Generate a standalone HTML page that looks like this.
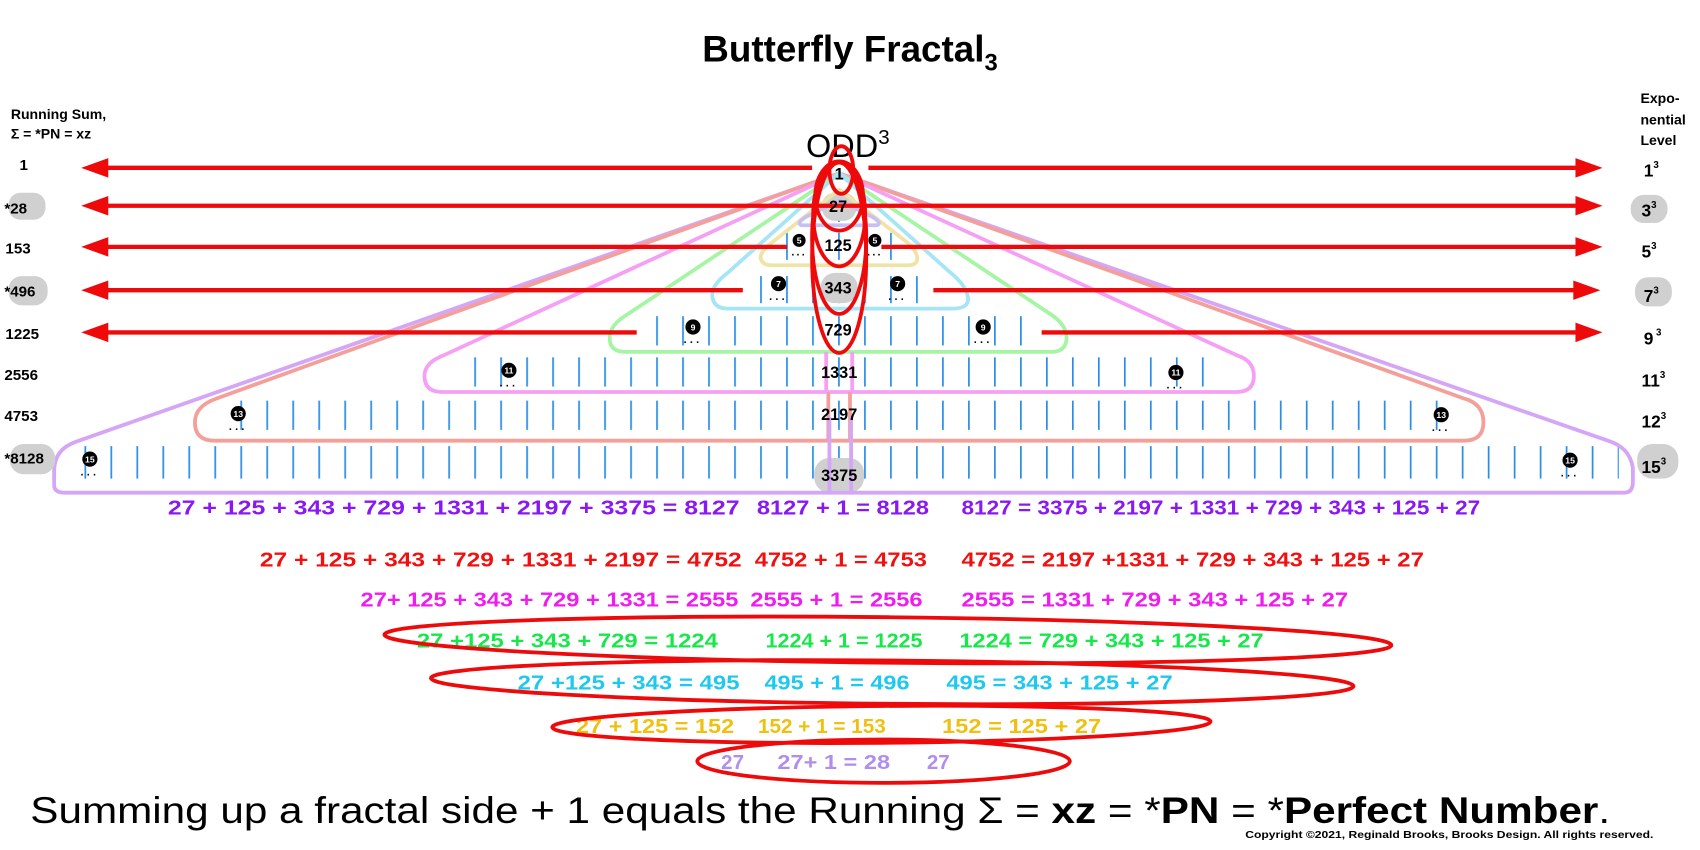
<!DOCTYPE html>
<html><head><meta charset="utf-8"><style>
html,body{margin:0;padding:0;background:#fff;width:1700px;height:850px;overflow:hidden}
svg{display:block}
text{font-family:"Liberation Sans",sans-serif}
.b{font-weight:bold}
</style></head><body>
<svg width="1700" height="850" viewBox="0 0 1570 785" xmlns="http://www.w3.org/2000/svg">
<defs>
<pattern id="tk" x="774" y="0" width="24" height="800" patternUnits="userSpaceOnUse">
<rect x="0" y="0" width="1.6" height="800" fill="#2a8ee8"/>
</pattern>
</defs>

<text x="785" y="57" text-anchor="middle" class="b" font-size="34">Butterfly Fractal<tspan font-size="22" dy="8">3</tspan></text>

<rect x="752" y="180" width="48" height="25" fill="url(#tk)"/>
<rect x="720" y="215" width="110" height="25" fill="url(#tk)"/>
<rect x="680" y="255" width="190" height="25" fill="url(#tk)"/>
<rect x="600" y="292" width="350" height="27" fill="url(#tk)"/>
<rect x="420" y="330" width="710" height="27" fill="url(#tk)"/>
<rect x="200" y="370" width="1145" height="27" fill="url(#tk)"/>
<rect x="62" y="412" width="1433" height="30" fill="url(#tk)"/>

<rect x="759" y="178" width="32" height="26" rx="12" fill="#d0d0d0"/>
<rect x="758" y="252" width="34" height="28" rx="13" fill="#d0d0d0"/>
<rect x="752" y="423" width="46" height="32" rx="14" fill="#d0d0d0"/>

<g fill="none" stroke-width="3.5" stroke-linejoin="round">
<path d="M775,160 L70,408 Q50,415 50,435 L50,448 Q50,455 60,455 L1500,455 Q1508,455 1508,445 L1508,432 Q1505,413 1485,407 Z" stroke="#d4a6f5"/>
<path d="M775,160 L200,368 Q180,375 180,390 Q180,407 198,407 L1352,407 Q1370,407 1370,390 Q1370,373 1352,368 Z" stroke="#f4a09a"/>
<path d="M775,160 L410,328 Q392,335 392,347 Q392,362 408,362 L1142,362 Q1158,362 1158,347 Q1158,333 1142,328 Z" stroke="#f5a0f5"/>
<path d="M775,160 L580,290 Q563,300 563,312 Q563,325 578,325 L970,325 Q985,325 985,312 Q985,300 970,290 Z" stroke="#a5f5a5"/>
<path d="M775,160 L672,252 Q656,264 658,275 Q660,285 672,285 L880,285 Q895,285 894,275 Q892,263 878,252 Z" stroke="#a5e5f5"/>
<path d="M775,175 L713,224 Q700,234 703,240 Q705,245 713,245 L838,245 Q846,245 847,240 Q848,233 838,224 Z" stroke="#f0e3a8"/>
<path d="M775,185 L745,200 Q735,206 740,208 L810,208 Q815,206 805,200 Z" stroke="#c8c0f0"/>
<path d="M763,325 L763,362 M787,325 L787,362" stroke="#f5a0f5"/>
<path d="M765,362 L765,407 M785,362 L785,407" stroke="#f4a09a"/>
<path d="M766,385 L766,455 M786,385 L786,455" stroke="#d4a6f5"/>
</g>

<text x="783" y="145" text-anchor="middle" font-size="30">ODD<tspan font-size="19" dy="-12">3</tspan></text>

<g stroke="#ee0a0a" stroke-width="4" fill="#ee0a0a">
<line x1="98" y1="155" x2="750" y2="155"/><line x1="802" y1="155" x2="1455" y2="155"/>
<line x1="98" y1="190" x2="1455" y2="190"/>
<line x1="98" y1="228" x2="727" y2="228"/><line x1="814" y1="228" x2="1455" y2="228"/>
<line x1="98" y1="268" x2="686" y2="268"/><line x1="862" y1="268" x2="1455" y2="268"/>
<line x1="98" y1="307" x2="588" y2="307"/><line x1="962" y1="307" x2="1455" y2="307"/>
</g>
<g fill="#ee0a0a">
<path d="M75,155 L100,146 L100,164 Z"/><path d="M1480,155 L1455,146 L1455,164 Z"/>
<path d="M75,190 L100,181 L100,199 Z"/><path d="M1480,190 L1455,181 L1455,199 Z"/>
<path d="M75,228 L100,219 L100,237 Z"/><path d="M1480,228 L1455,219 L1455,237 Z"/>
<path d="M75,268 L100,259 L100,277 Z"/><path d="M1478,268 L1453,259 L1453,277 Z"/>
<path d="M75,307 L100,298 L100,316 Z"/><path d="M1480,307 L1455,298 L1455,316 Z"/>
</g>

<g class="b" font-size="15" text-anchor="middle" fill="#000">
<text x="775" y="166">1</text>
<text x="774" y="196">27</text>
<text x="774" y="232">125</text>
<text x="774" y="271">343</text>
<text x="774" y="310">729</text>
<text x="775" y="349">1331</text>
<text x="775" y="388">2197</text>
<text x="775" y="444">3375</text>
</g>

<g font-size="8" class="b" text-anchor="middle">
<g transform="translate(738,222)"><circle r="6" fill="#000"/><text y="3" fill="#fff">5</text><text y="14" fill="#000" font-size="10" letter-spacing="2">...</text></g>
<g transform="translate(808,222)"><circle r="6" fill="#000"/><text y="3" fill="#fff">5</text><text y="14" fill="#000" font-size="10" letter-spacing="2">...</text></g>
<g transform="translate(719,262)"><circle r="7" fill="#000"/><text y="3" fill="#fff">7</text><text y="15" fill="#000" font-size="10" letter-spacing="3">...</text></g>
<g transform="translate(829,262)"><circle r="7" fill="#000"/><text y="3" fill="#fff">7</text><text y="15" fill="#000" font-size="10" letter-spacing="3">...</text></g>
<g transform="translate(640,302)"><circle r="7" fill="#000"/><text y="3" fill="#fff">9</text><text y="15" fill="#000" font-size="10" letter-spacing="3">...</text></g>
<g transform="translate(908,302)"><circle r="7" fill="#000"/><text y="3" fill="#fff">9</text><text y="15" fill="#000" font-size="10" letter-spacing="3">...</text></g>
<g transform="translate(470,342)"><circle r="7" fill="#000"/><text y="3" fill="#fff">11</text><text y="15" fill="#000" font-size="10" letter-spacing="3">...</text></g>
<g transform="translate(1086,344)"><circle r="7" fill="#000"/><text y="3" fill="#fff">11</text><text y="15" fill="#000" font-size="10" letter-spacing="3">...</text></g>
<g transform="translate(220,382)"><circle r="7" fill="#000"/><text y="3" fill="#fff">13</text><text y="15" fill="#000" font-size="10" letter-spacing="3">...</text></g>
<g transform="translate(1331,383)"><circle r="7" fill="#000"/><text y="3" fill="#fff">13</text><text y="15" fill="#000" font-size="10" letter-spacing="3">...</text></g>
<g transform="translate(83,424)"><circle r="7" fill="#000"/><text y="3" fill="#fff">15</text><text y="15" fill="#000" font-size="10" letter-spacing="3">...</text></g>
<g transform="translate(1450,425)"><circle r="7" fill="#000"/><text y="3" fill="#fff">15</text><text y="15" fill="#000" font-size="10" letter-spacing="3">...</text></g>
</g>

<g fill="none" stroke="#ee0a0a" stroke-width="3.5">
<ellipse cx="777" cy="157" rx="11" ry="22"/>
<ellipse cx="775" cy="181" rx="22" ry="32"/>
<ellipse cx="775" cy="198" rx="24" ry="48"/>
<ellipse cx="775" cy="220" rx="25" ry="70"/>
<ellipse cx="775" cy="238" rx="25" ry="88"/>
</g>

<g class="b" font-size="13" fill="#000">
<text x="10" y="110">Running Sum,</text>
<text x="10" y="128">Σ = *PN = xz</text>
</g>
<rect x="8" y="178" width="34" height="25" rx="11" fill="#d0d0d0"/>
<rect x="8" y="255" width="36" height="27" rx="12" fill="#d0d0d0"/>
<rect x="9" y="410" width="42" height="28" rx="13" fill="#d0d0d0"/>
<g class="b" font-size="14" fill="#000">
<text x="18" y="157">1</text>
<text x="4" y="197">*28</text>
<text x="5" y="234">153</text>
<text x="4" y="274">*496</text>
<text x="5" y="313">1225</text>
<text x="4" y="351">2556</text>
<text x="4" y="389">4753</text>
<text x="4" y="428">*8128</text>
</g>

<g class="b" font-size="13" fill="#000">
<text x="1515" y="95">Expo-</text>
<text x="1515" y="115">nential</text>
<text x="1515" y="134">Level</text>
</g>
<rect x="1506" y="180" width="34" height="26" rx="12" fill="#d0d0d0"/>
<rect x="1510" y="256" width="34" height="27" rx="12" fill="#d0d0d0"/>
<rect x="1512" y="410" width="38" height="32" rx="14" fill="#d0d0d0"/>
<g class="b" font-size="16" fill="#000">
<text x="1518" y="163">1<tspan font-size="9" dy="-8">3</tspan></text>
<text x="1516" y="200">3<tspan font-size="9" dy="-8">3</tspan></text>
<text x="1516" y="238">5<tspan font-size="9" dy="-8">3</tspan></text>
<text x="1518" y="279">7<tspan font-size="9" dy="-8">3</tspan></text>
<text x="1518" y="318">9<tspan font-size="9" dy="-8"> 3</tspan></text>
<text x="1516" y="357">11<tspan font-size="9" dy="-8">3</tspan></text>
<text x="1516" y="395">12<tspan font-size="9" dy="-8">3</tspan></text>
<text x="1516" y="437">15<tspan font-size="9" dy="-8">3</tspan></text>
</g>

<g class="b" font-size="19">
<g fill="#8a18f0">
<text x="155" y="475" textLength="528" lengthAdjust="spacingAndGlyphs">27 + 125 + 343 + 729 + 1331 + 2197 + 3375 = 8127</text>
<text x="699" y="475" textLength="159" lengthAdjust="spacingAndGlyphs">8127 + 1 = 8128</text>
<text x="888" y="475" textLength="479" lengthAdjust="spacingAndGlyphs">8127 = 3375 + 2197 + 1331 + 729 + 343 + 125 + 27</text>
</g>
<g fill="#f01010">
<text x="240" y="523" textLength="445" lengthAdjust="spacingAndGlyphs">27 + 125 + 343 + 729 + 1331 + 2197 = 4752</text>
<text x="697" y="523" textLength="159" lengthAdjust="spacingAndGlyphs">4752 + 1 = 4753</text>
<text x="888" y="523" textLength="427" lengthAdjust="spacingAndGlyphs">4752 = 2197 +1331 + 729 + 343 + 125 + 27</text>
</g>
<g fill="#ee1cee">
<text x="333" y="560" textLength="349" lengthAdjust="spacingAndGlyphs">27+ 125 + 343 + 729 + 1331  = 2555</text>
<text x="693" y="560" textLength="159" lengthAdjust="spacingAndGlyphs">2555 + 1 = 2556</text>
<text x="888" y="560" textLength="357" lengthAdjust="spacingAndGlyphs">2555 = 1331 + 729 + 343 + 125 + 27</text>
</g>
<g fill="#17e84a">
<text x="385" y="598" textLength="278" lengthAdjust="spacingAndGlyphs">27 +125 + 343 + 729 = 1224</text>
<text x="707" y="598" textLength="145" lengthAdjust="spacingAndGlyphs">1224 + 1 = 1225</text>
<text x="886" y="598" textLength="281" lengthAdjust="spacingAndGlyphs">1224 = 729 + 343 + 125 + 27</text>
</g>
<g fill="#1ec8ee">
<text x="478" y="637" textLength="205" lengthAdjust="spacingAndGlyphs">27 +125 + 343 = 495</text>
<text x="706" y="637" textLength="134" lengthAdjust="spacingAndGlyphs">495 + 1 = 496</text>
<text x="874" y="637" textLength="209" lengthAdjust="spacingAndGlyphs">495 = 343 + 125 + 27</text>
</g>
<g fill="#f0c010">
<text x="532" y="677" textLength="146" lengthAdjust="spacingAndGlyphs">27 + 125 = 152</text>
<text x="700" y="677" textLength="118" lengthAdjust="spacingAndGlyphs">152 + 1 = 153</text>
<text x="870" y="677" textLength="147" lengthAdjust="spacingAndGlyphs">152 = 125 + 27</text>
</g>
<g fill="#b08ef0">
<text x="666" y="710">27</text>
<text x="718" y="710" textLength="104" lengthAdjust="spacingAndGlyphs">27+ 1 = 28</text>
<text x="856" y="710">27</text>
</g>
</g>

<g fill="none" stroke="#ee0a0a" stroke-width="3.5">
<ellipse cx="820" cy="591" rx="465" ry="21" transform="rotate(0.6 820 591)"/>
<ellipse cx="824" cy="630" rx="426" ry="20" transform="rotate(0.5 824 630)"/>
<ellipse cx="814" cy="669" rx="304" ry="17" transform="rotate(-0.5 814 669)"/>
<ellipse cx="816" cy="703" rx="172" ry="20"/>
</g>

<text x="28" y="760" font-size="34" textLength="1459" lengthAdjust="spacingAndGlyphs">Summing up a fractal side + 1 equals the Running Σ = <tspan class="b">xz</tspan> = *<tspan class="b">PN</tspan> = *<tspan class="b">Perfect Number</tspan>.</text>
<text x="1150" y="774" class="b" font-size="9" textLength="377" lengthAdjust="spacingAndGlyphs">Copyright ©2021, Reginald Brooks, Brooks Design. All rights reserved.</text>
</svg>
</body></html>
